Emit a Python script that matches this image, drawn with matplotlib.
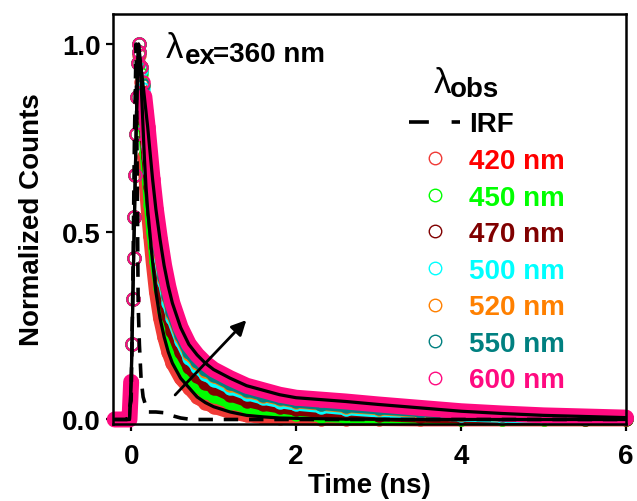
import numpy as np
import matplotlib.pyplot as plt
from matplotlib.lines import Line2D

plt.rcParams['font.family'] = ['Liberation Sans', 'DejaVu Sans']
plt.rcParams['font.weight'] = 'bold'
plt.rcParams['axes.labelweight'] = 'bold'

# time grid (ns)
t_rise = [-0.2, -0.15, -0.1, -0.05, -0.02, 0.0, 0.01, 0.02, 0.03, 0.04, 0.05,
          0.06, 0.07, 0.08, 0.09]
t_decay = [0.1, 0.12, 0.14, 0.16, 0.18, 0.2, 0.23, 0.26, 0.3, 0.35, 0.4, 0.45,
           0.5, 0.6, 0.7, 0.8, 0.9, 1.0, 1.2, 1.4, 1.6, 1.8, 2.0, 2.3, 2.6,
           3.0, 3.5, 4.0, 4.5, 5.0, 5.5, 6.0]

# rising edge is the same for every wavelength
rise = [0.0, 0.0, 0.0, 0.0, 0.0, 0.1, 0.2, 0.32, 0.43, 0.54, 0.65, 0.76, 0.86,
        0.95, 1.0]

d420 = [0.97, 0.90, 0.80, 0.70, 0.62, 0.56, 0.49, 0.42, 0.34, 0.27, 0.22, 0.18,
        0.15, 0.11, 0.085, 0.06, 0.045, 0.034, 0.02, 0.011, 0.007, 0.004, 0.003,
        0.002, 0.001, 0.001, 0.0, 0.0, 0.0, 0.0, 0.0, 0.0]
d450 = [0.98, 0.92, 0.85, 0.78, 0.71, 0.65, 0.57, 0.50, 0.42, 0.35, 0.29, 0.24,
        0.20, 0.15, 0.115, 0.09, 0.074, 0.062, 0.045, 0.033, 0.025, 0.019, 0.015,
        0.01, 0.007, 0.005, 0.003, 0.002, 0.001, 0.001, 0.001, 0.0]
d470 = [0.98, 0.93, 0.87, 0.81, 0.75, 0.70, 0.62, 0.55, 0.46, 0.39, 0.325, 0.275,
        0.235, 0.18, 0.14, 0.115, 0.098, 0.085, 0.065, 0.05, 0.04, 0.033, 0.027,
        0.021, 0.016, 0.012, 0.008, 0.006, 0.004, 0.003, 0.002, 0.001]
d500 = [0.98, 0.93, 0.88, 0.83, 0.78, 0.73, 0.66, 0.59, 0.50, 0.43, 0.365, 0.31,
        0.27, 0.21, 0.165, 0.14, 0.12, 0.105, 0.084, 0.068, 0.056, 0.047, 0.04,
        0.034, 0.028, 0.022, 0.016, 0.011, 0.008, 0.006, 0.004, 0.003]
d520 = [0.98, 0.94, 0.89, 0.84, 0.79, 0.74, 0.67, 0.60, 0.51, 0.44, 0.375, 0.325,
        0.28, 0.22, 0.175, 0.15, 0.13, 0.115, 0.093, 0.075, 0.063, 0.054, 0.046,
        0.04, 0.034, 0.028, 0.021, 0.015, 0.011, 0.008, 0.006, 0.004]
d550 = [0.98, 0.94, 0.89, 0.84, 0.79, 0.75, 0.68, 0.61, 0.52, 0.45, 0.38, 0.33,
        0.285, 0.225, 0.18, 0.155, 0.134, 0.118, 0.096, 0.078, 0.066, 0.056, 0.048,
        0.042, 0.036, 0.03, 0.023, 0.016, 0.012, 0.008, 0.006, 0.004]
d600 = [0.98, 0.94, 0.90, 0.86, 0.82, 0.78, 0.71, 0.64, 0.56, 0.48, 0.41, 0.355,
        0.31, 0.245, 0.20, 0.172, 0.15, 0.133, 0.11, 0.09, 0.078, 0.066, 0.058,
        0.053, 0.048, 0.04, 0.031, 0.022, 0.016, 0.011, 0.008, 0.005]

labels = ['420 nm', '450 nm', '470 nm', '500 nm', '520 nm', '550 nm', '600 nm']
colors = ['#F03A36', '#00FF00', '#800000', '#00FFFF', '#FF8000', '#008080', '#FF0A80']
text_colors = ['#FF0000', '#00FF00', '#800000', '#00FFFF', '#FF8000', '#008080', '#FF0A80']
band_widths = [10, 9, 9, 9, 9, 9, 11.5]
decays = [d420, d450, d470, d500, d520, d550, d600]

# instrument response
irf_t = [-0.2, -0.05, 0.0, 0.02, 0.04, 0.06, 0.075, 0.085, 0.1, 0.12, 0.145,
         0.2, 0.3, 0.4, 0.5, 0.6, 0.7, 0.8, 1.0, 2.0, 3.0, 4.0, 5.0, 6.0]
irf = [0.0, 0.0, 0.05, 0.35, 0.75, 1.0, 0.6, 0.31, 0.2, 0.11, 0.06,
       0.02, 0.02, 0.018, 0.01, 0.004, 0.001, 0.0, 0.0, 0.0, 0.0, 0.0, 0.0, 0.0]

time = np.array(t_rise + t_decay)
base = time <= 0.0
tail = time >= 0.16

fig = plt.figure(figsize=(6.37, 5.02), dpi=100)
ax = fig.add_axes([113 / 637, 1 - 425 / 502, 513 / 637, 410 / 502])

for vals, c, bw in zip(decays, colors, band_widths):
    y = np.array(rise + vals)
    for m in (base, tail):
        ax.plot(time[m], y[m], '-', color=c, lw=bw, solid_capstyle='round',
                zorder=2, clip_on=False)
    ax.plot(time, y, 'o', mfc='none', mec=c, ms=9, mew=1.4, zorder=2,
            clip_on=False)

# fits for the two outer traces
for vals in (d420, d600):
    ax.plot(time, rise + vals, '-', color='black', lw=2.3, zorder=4)

ax.plot(irf_t, irf, color='black', lw=2.6, dashes=(4, 3), zorder=5)

ax.annotate('', xy=(1.42, 0.27), xytext=(0.51, 0.06),
            arrowprops=dict(arrowstyle='-|>', color='black', lw=2,
                            mutation_scale=22), zorder=6)

ax.set_xlim(-0.22, 6.0)
ax.set_ylim(-0.012, 1.08)
ax.set_xticks([0, 2, 4, 6])
ax.set_yticks([0.0, 0.5, 1.0])
ax.set_yticklabels(['0.0', '0.5', '1.0'])
ax.tick_params(direction='out', length=5, width=1.6, labelsize=20, pad=4)
ax.tick_params(axis='x', pad=9)
for s in ax.spines.values():
    s.set_linewidth(1.8)
ax.set_xlabel('Time (ns)', fontsize=20, labelpad=2)
ax.set_ylabel('Normalized Counts', fontsize=20, labelpad=12)

# excitation label
fig.text(166 / 637, 1 - 58 / 502, 'λ', fontsize=25, fontweight='normal', va='baseline')
fig.text(185 / 637, 1 - 64 / 502, 'ex', fontsize=20, va='baseline')
fig.text(213 / 637, 1 - 62 / 502, '=360 nm', fontsize=20, va='baseline')

# legend title
fig.text(434 / 637, 1 - 93 / 502, 'λ', fontsize=25, fontweight='normal', va='baseline')
fig.text(450 / 637, 1 - 97 / 502, 'obs', fontsize=20, va='baseline')

handles = [Line2D([], [], color='black', lw=2.6, dashes=(5.5, 6.3))]
for c in colors:
    handles.append(Line2D([], [], ls='none', marker='o', mfc='none', mec=c,
                          ms=9, mew=1.0))
leg = ax.legend(handles, ['IRF'] + labels, loc='upper left',
                bbox_to_anchor=(409 / 637, 1 - 112.5 / 502),
                bbox_transform=fig.transFigure, frameon=False, fontsize=20,
                handlelength=1.85, handletextpad=0.3, labelspacing=0.38,
                borderpad=0, borderaxespad=0)
for txt, c in zip(leg.get_texts(), ['black'] + text_colors):
    txt.set_color(c)

fig.savefig('out.png', dpi=100)
